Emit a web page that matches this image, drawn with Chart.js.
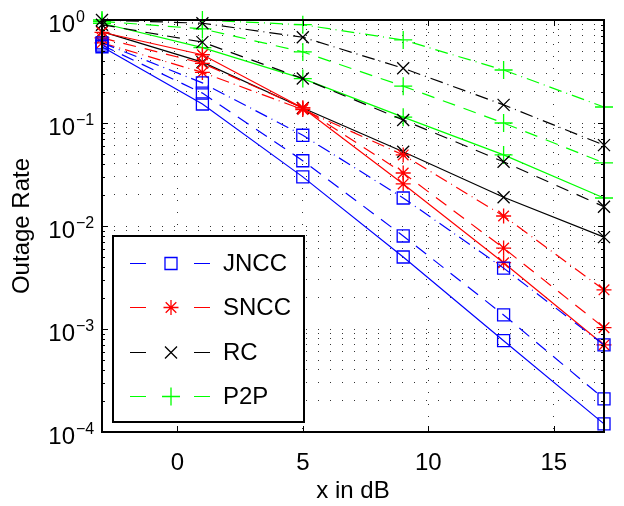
<!DOCTYPE html>
<html>
<head>
<meta charset="utf-8">
<script src="https://cdn.jsdelivr.net/npm/chart.js"></script>
<style>
  html, body { margin: 0; padding: 0; background: #fff; }
  #wrap { width: 624px; height: 506px; }
</style>
</head>
<body>
<div id="wrap"><canvas id="chart" width="624" height="506"></canvas></div>
<script>
// SNR points (x in dB) and tick positions
const xValues = [-3, 1, 5, 9, 13, 17];
const xTickValues = [0, 5, 10, 15];
const yDecades = [0, -1, -2, -3, -4];

// outage rate, one array per curve
const jnccSolid = [0.55, 0.153, 0.030, 0.0050, 0.00077, 0.00012];
const jnccDashA = [0.57, 0.195, 0.043, 0.0080, 0.00137, 0.00021];
const jnccDashB = [0.60, 0.245, 0.076, 0.0187, 0.0039, 0.00070];

const snccSolid = [0.76, 0.46, 0.14, 0.0256, 0.0044, 0.00070];
const snccDashA = [0.67, 0.38, 0.14, 0.0327, 0.0061, 0.00103];
const snccDashB = [0.60, 0.31, 0.135, 0.049, 0.0125, 0.0024];

const rcSolid = [0.77, 0.39, 0.14, 0.0525, 0.019, 0.0078];
const rcDashA = [0.90, 0.61, 0.27, 0.107, 0.042, 0.0154];
const rcDashB = [1.0, 0.93, 0.68, 0.34, 0.15, 0.061];

const p2pSolid = [0.93, 0.54, 0.27, 0.114, 0.049, 0.0187];
const p2pDashA = [0.97, 0.82, 0.49, 0.228, 0.10, 0.041];
const p2pDashB = [1.0, 1.0, 0.90, 0.64, 0.327, 0.143];

const seriesNames = ['JNCC', 'SNCC', 'RC', 'P2P'];

const FONT = '"Liberation Sans", Arial, Helvetica, sans-serif';

const groups = [
    { name: seriesNames[0], color: '#0000ff', marker: 'rect', radius: 8.5, curves: [jnccSolid, jnccDashA, jnccDashB] },
    { name: seriesNames[1], color: '#ff0000', marker: 'star', radius: 7.5, curves: [snccSolid, snccDashA, snccDashB] },
    { name: seriesNames[2], color: '#000000', marker: 'crossRot', radius: 8.5, curves: [rcSolid, rcDashA, rcDashB] },
    { name: seriesNames[3], color: '#00ff00', marker: 'cross', radius: 9, curves: [p2pSolid, p2pDashA, p2pDashB] }
];
const dashes = [[], [13, 9], [13, 5, 1, 5]];

const datasets = [];
groups.forEach(g => {
    g.curves.forEach((arr, k) => {
        datasets.push({
            label: g.name + (k ? ' ' + k : ''),
            data: xValues.map((x, i) => ({ x: x, y: arr[i] })),
            borderColor: g.color,
            backgroundColor: 'rgba(0,0,0,0)',
            borderWidth: 1.2,
            borderDash: dashes[k],
            pointStyle: g.marker,
            pointRadius: g.radius,
            pointBorderColor: g.color,
            pointBackgroundColor: 'rgba(0,0,0,0)',
            pointBorderWidth: 1.3,
            tension: 0,
            clip: false
        });
    });
});

// y grid at every 1..9 x 10^n
const yTickValues = [];
yDecades.slice(1).forEach(d => {
    for (let m = 1; m < 10; m++) yTickValues.push(m * Math.pow(10, d));
});
yTickValues.push(1);

function drawMarker(ctx, style, x, y, r) {
    ctx.beginPath();
    if (style === 'rect') {
        const s = r * Math.SQRT1_2;
        ctx.rect(x - s, y - s, 2 * s, 2 * s);
    } else {
        if (style === 'cross' || style === 'star') {
            ctx.moveTo(x, y - r); ctx.lineTo(x, y + r);
            ctx.moveTo(x - r, y); ctx.lineTo(x + r, y);
        }
        if (style === 'crossRot' || style === 'star') {
            const s = r * Math.SQRT1_2;
            ctx.moveTo(x - s, y - s); ctx.lineTo(x + s, y + s);
            ctx.moveTo(x - s, y + s); ctx.lineTo(x + s, y - s);
        }
    }
    ctx.stroke();
}

const matlabAxes = {
    id: 'matlabAxes',
    afterDraw(chart) {
        const ctx = chart.ctx;
        const a = chart.chartArea;
        const xs = chart.scales.x, ys = chart.scales.y;
        ctx.save();

        // inward tick marks
        ctx.strokeStyle = '#000';
        ctx.lineWidth = 1;
        ctx.setLineDash([]);
        ctx.beginPath();
        xTickValues.forEach(v => {
            const px = Math.round(xs.getPixelForValue(v)) + 0.5;
            ctx.moveTo(px, a.bottom); ctx.lineTo(px, a.bottom - 6);
            ctx.moveTo(px, a.top); ctx.lineTo(px, a.top + 6);
        });
        yTickValues.forEach(v => {
            const py = Math.round(ys.getPixelForValue(v)) + 0.5;
            const m = Math.round(v / Math.pow(10, Math.floor(Math.log10(v) + 1e-9)));
            const len = m === 1 ? 6 : 3;
            ctx.moveTo(a.left, py); ctx.lineTo(a.left + len, py);
            ctx.moveTo(a.right, py); ctx.lineTo(a.right - len, py);
        });
        ctx.stroke();

        // axes box
        ctx.lineWidth = 2;
        ctx.strokeRect(a.left, a.top, a.right - a.left, a.bottom - a.top);

        // y tick labels 10^n
        ctx.fillStyle = '#000';
        yDecades.forEach(d => {
            const py = ys.getPixelForValue(Math.pow(10, d));
            ctx.font = '24px ' + FONT;
            ctx.textAlign = 'right';
            ctx.textBaseline = 'alphabetic';
            ctx.fillText('10', 75, py + 12);
            ctx.font = '16px ' + FONT;
            ctx.textAlign = 'left';
            ctx.fillText(d === 0 ? '0' : '\u2212' + (-d), 76, py + 2);
        });

        // legend box
        const lx = 113, ly = 236, lw = 191, lh = 186;
        ctx.fillStyle = '#fff';
        ctx.fillRect(lx, ly, lw, lh);
        ctx.lineWidth = 2;
        ctx.strokeStyle = '#000';
        ctx.strokeRect(lx, ly, lw, lh);
        groups.forEach((g, i) => {
            const cy = Math.round(263 + i * 44.3) + 0.5;
            ctx.strokeStyle = g.color;
            ctx.lineWidth = 1.2;
            ctx.beginPath();
            ctx.moveTo(130, cy); ctx.lineTo(146, cy);
            ctx.moveTo(194, cy); ctx.lineTo(210, cy);
            ctx.stroke();
            ctx.lineWidth = 1.3;
            drawMarker(ctx, g.marker, 171, cy, g.radius);
            ctx.fillStyle = '#000';
            ctx.font = '24px ' + FONT;
            ctx.textAlign = 'left';
            ctx.textBaseline = 'middle';
            ctx.fillText(g.name, 223, cy + 1);
        });

        ctx.restore();
    }
};

new Chart(document.getElementById('chart'), {
    type: 'line',
    data: { datasets: datasets },
    plugins: [matlabAxes],
    options: {
        responsive: false,
        animation: false,
        events: [],
        layout: { padding: { top: 20, right: 20, left: 0, bottom: 0 } },
        plugins: {
            legend: { display: false },
            tooltip: { enabled: false }
        },
        scales: {
            x: {
                type: 'linear',
                min: -3,
                max: 17,
                afterBuildTicks: scale => {
                    scale.ticks = xTickValues.map(v => ({ value: v }));
                },
                afterFit: scale => { scale.height = 74; },
                grid: { color: '#333', lineWidth: 1, drawTicks: false },
                border: { display: false, dash: [1, 11] },
                ticks: {
                    color: '#000',
                    font: { family: FONT, size: 24 },
                    padding: 17,
                    maxRotation: 0,
                    autoSkip: false
                },
                title: {
                    display: true,
                    text: 'x in dB',
                    color: '#000',
                    font: { family: FONT, size: 24 },
                    padding: { top: 0, bottom: 0 }
                }
            },
            y: {
                type: 'logarithmic',
                min: 1e-4,
                max: 1,
                afterBuildTicks: scale => {
                    scale.ticks = yTickValues.map(v => ({ value: v }));
                },
                afterFit: scale => { scale.width = 102; },
                grid: { color: '#333', lineWidth: 1, drawTicks: false },
                border: { display: false, dash: [1, 11] },
                ticks: { display: false, autoSkip: false },
                title: {
                    display: true,
                    text: 'Outage Rate',
                    color: '#000',
                    font: { family: FONT, size: 24 },
                    padding: { top: 8, bottom: 0 }
                }
            }
        }
    }
});
</script>
</body>
</html>
